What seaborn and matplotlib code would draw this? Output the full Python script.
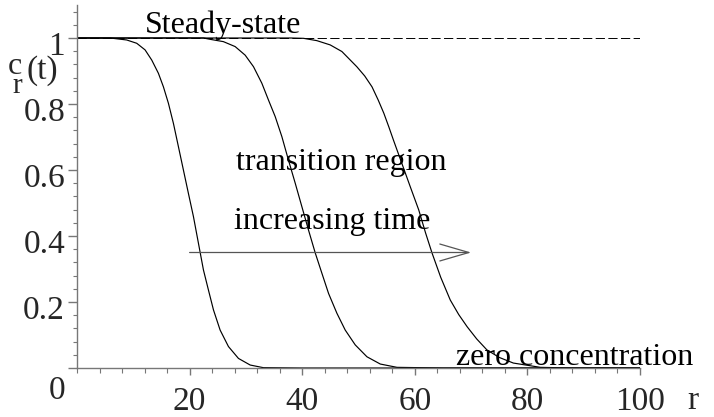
import numpy as np
import pandas as pd
import matplotlib
matplotlib.use("Agg")
import matplotlib.pyplot as plt
import seaborn as sns
from matplotlib.ticker import MultipleLocator
from matplotlib.transforms import ScaledTranslation

# ---- data ----
r_early = [0, 5.9, 8.83, 10.61, 12.09, 13.28, 14.46, 15.35, 16.24, 17.13, 18.01, 18.9, 19.79,
           20.68, 21.57, 22.46, 23.35, 24.24, 25.42, 26.9, 28.68, 30.76, 33.1, 40, 100]
c_early = [1.0, 1.0, 0.994, 0.984, 0.964, 0.933, 0.893, 0.852, 0.802, 0.741, 0.671, 0.600,
           0.529, 0.459, 0.378, 0.297, 0.236, 0.176, 0.115, 0.065, 0.029, 0.009, 0.001, 0.0, 0.0]

r_mid = [0, 22.46, 23.64, 26.0, 28.09, 29.87, 31.35, 32.83, 34.01, 35.2, 36.39, 37.56, 38.76,
         39.94, 41.12, 42.31, 43.5, 44.68, 46.16, 47.64, 49.42, 51.5, 53.87, 56.83, 65, 100]
c_mid = [1.0, 1.0, 0.996, 0.989, 0.974, 0.948, 0.913, 0.863, 0.812, 0.762, 0.701, 0.630, 0.560,
         0.489, 0.418, 0.349, 0.287, 0.226, 0.166, 0.115, 0.070, 0.034, 0.012, 0.002, 0.0, 0.0]

r_late = [0, 38, 40.24, 42.6, 44.98, 47.05, 49.7, 51.1, 52.4, 53.5, 54.5, 55.4, 56.2, 57.7,
          59.2, 60.7, 61.9, 63.05, 64.6, 66.3, 67.8, 69.3, 71.0, 72.8, 75.0, 77.5, 82.3, 88, 100]
c_late = [1.0, 1.0, 0.999, 0.992, 0.979, 0.959, 0.913, 0.885, 0.852, 0.812, 0.772, 0.730,
          0.691, 0.620, 0.549, 0.479, 0.410, 0.349, 0.275, 0.206, 0.162, 0.125, 0.088, 0.055,
          0.032, 0.015, 0.002, 0.0, 0.0]

curve_names = ["early", "mid", "late"]

x_ticks = [20, 40, 60, 80, 100]
x_tick_labels = ["20", "40", "60", "80", "100"]
y_ticks = [0, 0.2, 0.4, 0.6, 0.8, 1]
y_tick_labels = ["0", "0.2", "0.4", "0.6", "0.8", "1"]

steady_state = 1.0
arrow_r = [20, 70]
arrow_c = 0.35

# annotations: (text, r, c)
annotations = [
    ("Steady-state", 25.96, 1.015),
    ("transition region", 47.0, 0.60),
    ("increasing time", 45.4, 0.421),
    ("zero concentration", 88.3, 0.009),
]

# ---- drawing ----
sns.set_style("white")
plt.rcParams["font.family"] = ["Liberation Serif", "DejaVu Serif"]

W, H = 714, 417
fig = plt.figure(figsize=(W / 100, H / 100), dpi=100)
ax = fig.add_axes([77 / W, 49 / H, 563 / W, 363 / H])

df = pd.concat([
    pd.DataFrame({"r": r_early, "c": c_early, "curve": curve_names[0]}),
    pd.DataFrame({"r": r_mid, "c": c_mid, "curve": curve_names[1]}),
    pd.DataFrame({"r": r_late, "c": c_late, "curve": curve_names[2]}),
], ignore_index=True)

ax.axhline(steady_state, color="black", lw=0.7, dashes=(9.5, 3.5), zorder=1)
sns.lineplot(data=df, x="r", y="c", units="curve", estimator=None, color="black",
             lw=0.85, ax=ax, legend=False, zorder=2)

ax.annotate("", xy=(arrow_r[1], arrow_c), xytext=(arrow_r[0], arrow_c),
            arrowprops=dict(arrowstyle="->,head_length=20.9,head_width=6.1",
                            mutation_scale=1, color="#555555", lw=0.9,
                            shrinkA=0, shrinkB=0))

for txt, rr, cc in annotations:
    ax.text(rr, cc, txt, ha="center", va="baseline", fontsize=23, color="black")

ax.set_xlim(0, 100)
ax.set_ylim(0, 1.1)
for s in ["top", "right"]:
    ax.spines[s].set_visible(False)
for s in ["left", "bottom"]:
    ax.spines[s].set_color("#777777")
    ax.spines[s].set_linewidth(1.0)

ax.set_xticks(x_ticks, x_tick_labels)
ax.set_yticks(y_ticks, y_tick_labels)
ax.xaxis.set_minor_locator(MultipleLocator(4))
ax.yaxis.set_minor_locator(MultipleLocator(0.04))

ax.tick_params(axis="x", which="major", direction="out", length=5, width=1.0,
               color="#777777", pad=8, labelsize=24, bottom=True)
ax.tick_params(axis="x", which="minor", direction="out", length=3.5, width=0.8,
               color="#777777", bottom=True)
ax.tick_params(axis="y", which="major", direction="out", length=6.3, width=1.0,
               color="#777777", pad=2.3, labelsize=24, left=True)
ax.tick_params(axis="y", which="minor", direction="out", length=3.2, width=0.8,
               color="#777777", left=True)

ax.set_xlabel("r", fontsize=24)
ax.xaxis.set_label_coords(1.094, -0.113)
ax.xaxis.label.set_va("baseline")
ax.set_ylabel("")

for val, lab in zip(y_ticks, ax.yaxis.get_majorticklabels()):
    dy = -19 if val == 0 else -5
    lab.set_transform(lab.get_transform() + ScaledTranslation(0, dy / 100, fig.dpi_scale_trans))

# y-axis label c_r(t) built from pieces, in figure pixel positions
fig.text(15 / W, 1 - 74 / H, "c", ha="center", va="baseline", fontsize=23)
fig.text(17.5 / W, 1 - 93 / H, "r", ha="center", va="baseline", fontsize=21)
fig.text(26 / W, 1 - 79 / H, "(t)", ha="left", va="baseline", fontsize=24)

fig.savefig("out.png", dpi=100)
